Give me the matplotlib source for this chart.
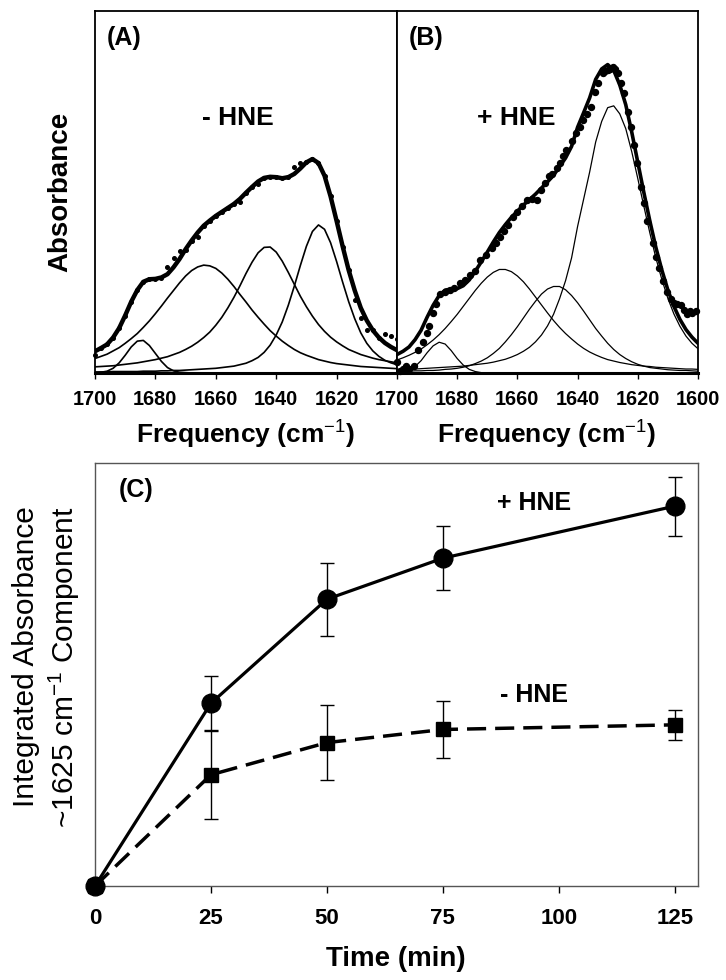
import numpy as np
import matplotlib
matplotlib.use('Agg')
import matplotlib.pyplot as plt

plt.rcParams['font.family'] = ['Liberation Sans', 'DejaVu Sans']
plt.rcParams['mathtext.fontset'] = 'custom'
plt.rcParams['mathtext.rm'] = 'Liberation Sans'
plt.rcParams['mathtext.bf'] = 'Liberation Sans:bold'
plt.rcParams['mathtext.it'] = 'Liberation Sans:italic'

# ---------------- data (absorbance in arbitrary milli-units) ----------------
freq = list(range(1700, 1599, -2))   # cm-1, 1700 ... 1600

# Panel A (- HNE): fitted band components and measured points
A_c1685 = [0, 2, 5, 13, 28, 49, 72, 88, 90, 76, 54, 32, 15, 6, 2, 1] + [0] * 35
A_c1663 = [40, 46, 52, 61, 70, 82, 95, 109, 126, 144, 164, 185, 207, 228, 249, 268, 283, 293, 298, 296,
           289, 276, 259, 239, 217, 196, 174, 154, 135, 117, 102, 88, 76, 65, 56, 49, 43, 37, 33, 29,
           26, 24, 22, 20, 18, 17, 16, 15, 14, 13, 12]
A_c1643 = [17, 18, 19, 20, 22, 24, 26, 28, 31, 34, 37, 41, 45, 51, 57, 65, 74, 85, 98, 113,
           132, 154, 180, 209, 241, 275, 306, 332, 347, 348, 334, 309, 278, 245, 212, 183, 157, 134, 115, 99,
           86, 75, 65, 58, 51, 46, 41, 37, 34, 31, 28]
A_c1625 = [3, 3, 3, 4, 4, 4, 4, 4, 5, 5, 5, 6, 6, 7, 7, 8, 9, 10, 11, 12,
           13, 15, 17, 19, 23, 27, 34, 43, 57, 77, 105, 141, 187, 240, 297, 350, 391, 409, 397, 360,
           308, 251, 197, 150, 111, 82, 61, 46, 35, 28, 23]
A_data = [50, 68, 80, 98, 124, 158, 197, 230, 251, 259, 260, 263, 294, 317, 336, 341, 365, 377, 406, 421,
          434, 445, 455, 467, 471, 498, 514, 521, 539, 542, 541, 538, 541, 570, 580, 582, 591, 580, 545, 488,
          420, 349, 284, 202, 151, 120, 118, 98, 108, 102, 94]

# Panel B (+ HNE)
B_c1686 = [1, 3, 7, 18, 34, 56, 75, 85, 80, 62, 40, 22, 10, 4, 1] + [0] * 36
B_c1665 = [36, 42, 49, 57, 66, 78, 91, 106, 123, 142, 162, 184, 206, 228, 248, 265, 278, 286, 286, 280,
           268, 252, 232, 210, 188, 166, 145, 126, 109, 94, 80, 68, 58, 50, 43, 37, 33, 29, 26, 23,
           21, 19, 18, 16, 15, 14, 13, 12, 11, 11, 10]
B_c1647 = [4, 5, 5, 6, 6, 7, 7, 8, 10, 11, 13, 16, 20, 26, 33, 42, 54, 68, 86, 106,
           128, 152, 176, 198, 218, 232, 239, 239, 230, 214, 194, 171, 147, 123, 102, 82, 65, 51, 40, 31,
           24, 19, 15, 13, 11, 9, 8, 7, 7, 6, 5]
B_c1628 = [10, 10, 11, 11, 12, 13, 14, 15, 16, 17, 18, 19, 21, 23, 25, 27, 30, 34, 38, 44,
           51, 60, 71, 86, 105, 130, 162, 205, 255, 318, 405, 480, 555, 638, 695, 733, 738, 716, 675, 611,
           537, 461, 387, 318, 258, 206, 163, 129, 102, 82, 67]
B_data_freq = [1700, 1699, 1698, 1697, 1696, 1694.5, 1693, 1691.5, 1690, 1689.3, 1688, 1687, 1685.7, 1684,
               1682.4, 1681, 1679, 1677.5, 1675.7, 1674, 1672.4, 1670.5, 1668.5, 1667, 1665.7, 1664.5, 1663,
               1661.5, 1660.2, 1658.5, 1656.9, 1655.3, 1653.6, 1652, 1650.8, 1649.5, 1648.6, 1647, 1645.9,
               1644.8, 1643.7, 1642, 1640.4, 1639.3, 1638.2, 1636.8, 1635.4, 1634.3, 1633.2, 1631.6, 1630.8,
               1630, 1629.2, 1628.3, 1627.5, 1626.7, 1625.5, 1624.5, 1623.4, 1622.3, 1621.2, 1620.1, 1619,
               1617.9, 1616.8, 1615.1, 1614, 1612.9, 1611.5, 1610.2, 1609, 1608, 1606.9, 1605.8, 1604.7,
               1603.6, 1602.5, 1601.9, 1600.8]
B_data = [30, 5, 10, 20, 10, 20, 63, 86, 110, 130, 165, 190, 218, 225, 229, 235, 248, 258, 270, 283,
          313, 325, 345, 360, 377, 392, 410, 432, 445, 462, 478, 482, 478, 505, 525, 545, 550, 565, 580,
          600, 616, 640, 663, 680, 700, 715, 735, 776, 800, 830, 835, 837, 840, 845, 840, 830, 800,
          773, 720, 680, 630, 580, 515, 470, 420, 360, 320, 290, 255, 225, 205, 193, 190, 188, 175,
          163, 170, 166, 170]

# Panel C
time = [0, 25, 50, 75, 125]
plus_hne = [0, 0.432, 0.678, 0.775, 0.898]
plus_err = [0, 0.064, 0.086, 0.076, 0.070]
minus_hne = [0, 0.263, 0.339, 0.370, 0.381]
minus_err = [0, 0.104, 0.089, 0.0665, 0.036]
time_ticks = [0, 25, 50, 75, 100, 125]
A_ticks = [1700, 1680, 1660, 1640, 1620]
B_ticks = [1700, 1680, 1660, 1640, 1620, 1600]

# ---------------- figure ----------------
W, H = 726, 980
fig = plt.figure(figsize=(W / 100, H / 100), dpi=100)

def fx(p):
    return p / W

def fy(p):
    return 1 - p / H

axA = fig.add_axes([fx(95), fy(373), fx(302), (373 - 11) / H])
axB = fig.add_axes([fx(397), fy(373), fx(301), (373 - 11) / H])
axC = fig.add_axes([fx(95), fy(886), fx(603), (886 - 463) / H])

A_comps = [A_c1685, A_c1663, A_c1643, A_c1625]
B_comps = [B_c1686, B_c1665, B_c1647, B_c1628]
A_fit = np.sum(np.array(A_comps), axis=0)
B_fit = np.sum(np.array(B_comps), axis=0)

for ax, comps, fit, lwc, lwf, ticks in [(axA, A_comps, A_fit, 1.2, 3.2, A_ticks),
                                         (axB, B_comps, B_fit, 0.9, 2.6, B_ticks)]:
    for c in comps:
        ax.plot(freq, c, color='black', lw=lwc, zorder=2)
    ax.plot(freq, fit, color='black', lw=lwf, zorder=3, solid_capstyle='round')
    ax.set_xlim(1700, 1600)
    ax.set_ylim(0, 1000)
    ax.set_yticks([])
    for s in ax.spines.values():
        s.set_linewidth(1.3)
    ax.spines['bottom'].set_linewidth(2.2)
    ax.set_xticks(ticks)
    ax.set_xticklabels([str(t) for t in ticks], fontweight='bold', fontsize=14.3)
    ax.tick_params(axis='x', direction='out', length=4, width=1, pad=8)

axA.plot(freq, A_data, 'o', color='black', ms=2.6, zorder=4, clip_on=False)
axB.plot(B_data_freq, B_data, 'o', color='black', ms=4.3, zorder=4, clip_on=False)

axA.text(0.04, 0.925, '(A)', transform=axA.transAxes, fontsize=18, fontweight='bold', va='center', ha='left')
axB.text(0.04, 0.925, '(B)', transform=axB.transAxes, fontsize=18, fontweight='bold', va='center', ha='left')
axA.text(0.474, 0.704, '- HNE', transform=axA.transAxes, fontsize=19, fontweight='bold', va='center', ha='center')
axB.text(0.395, 0.704, '+ HNE', transform=axB.transAxes, fontsize=19, fontweight='bold', va='center', ha='center')

fig.text(fx(60), fy(192), 'Absorbance', rotation=90, fontsize=20, fontweight='bold', ha='center', va='center')
fig.text(fx(246), fy(435), r'Frequency (cm$^{-1}$)', fontsize=19, fontweight='bold', ha='center', va='center')
fig.text(fx(547), fy(435), r'Frequency (cm$^{-1}$)', fontsize=19, fontweight='bold', ha='center', va='center')

# Panel C
axC.errorbar(time, plus_hne, yerr=plus_err, fmt='none', ecolor='black', elinewidth=1.0, capsize=5,
             capthick=1.0, zorder=2, clip_on=False)
axC.errorbar(time, minus_hne, yerr=minus_err, fmt='none', ecolor='black', elinewidth=1.0, capsize=5,
             capthick=1.0, zorder=2, clip_on=False)
axC.plot(time, minus_hne, color='black', lw=2.5, dashes=(5.5, 2.6), zorder=3, clip_on=False)
axC.plot(time, minus_hne, 's', color='black', ms=10, zorder=4, clip_on=False)
axC.plot(time, plus_hne, color='black', lw=2.3, zorder=5, clip_on=False)
axC.plot(time, plus_hne, 'o', color='black', ms=13.5, zorder=6, clip_on=False)
axC.set_xlim(0, 130)
axC.set_ylim(0, 1)
axC.set_yticks([])
axC.set_xticks(time_ticks)
axC.set_xticklabels([str(t) for t in time_ticks], fontweight='bold', fontsize=16)
axC.tick_params(axis='x', direction='out', length=5, width=1, pad=11)
for s in axC.spines.values():
    s.set_linewidth(1.0)
    s.set_color('#555555')
axC.text(0.04, 0.936, '(C)', transform=axC.transAxes, fontsize=18, fontweight='bold', va='center', ha='left')
axC.text(94.6, 0.905, '+ HNE', fontsize=18, fontweight='bold', va='center', ha='center')
axC.text(94.6, 0.452, '- HNE', fontsize=18, fontweight='bold', va='center', ha='center')
fig.text(fx(396), fy(959), 'Time (min)', fontsize=20, fontweight='bold', ha='center', va='center')
fig.text(fx(26), fy(657), 'Integrated Absorbance', rotation=90, fontsize=21.5, ha='center', va='center')
fig.text(fx(64), fy(667), r'~1625 cm$^{-1}$ Component', rotation=90, fontsize=21.5, ha='center', va='center')

fig.savefig('out.png', dpi=100)
